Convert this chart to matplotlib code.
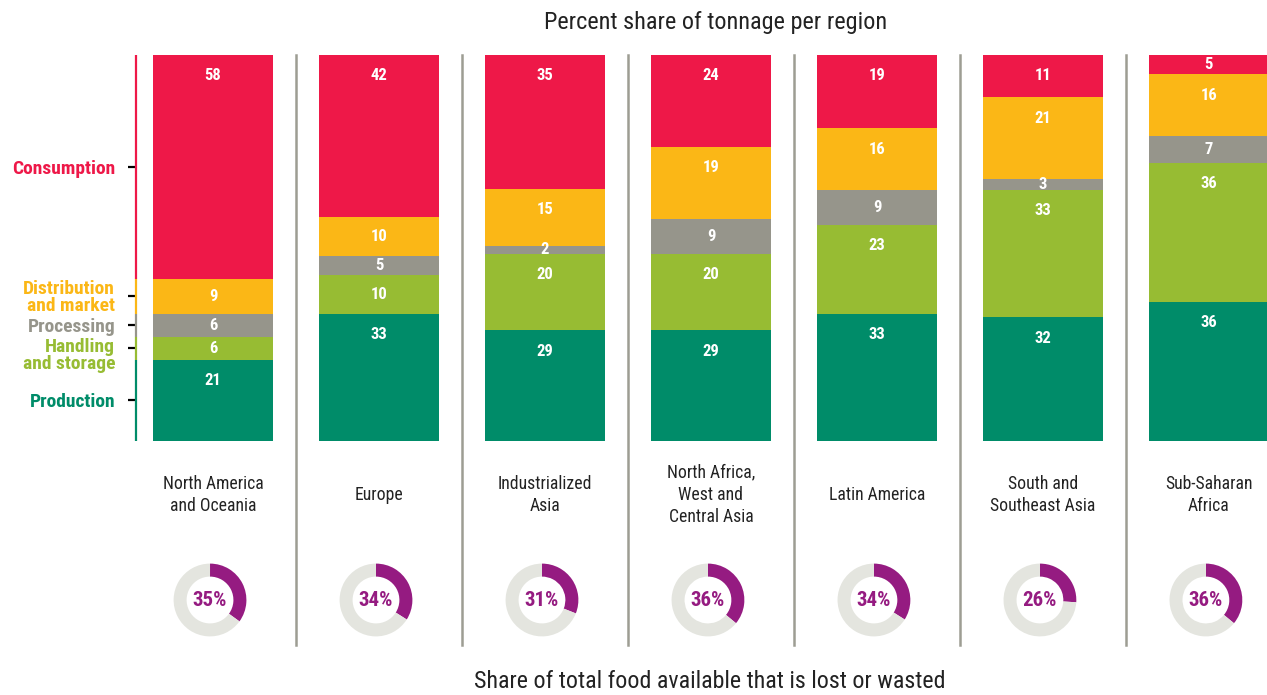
import matplotlib
matplotlib.use("Agg")
import matplotlib.pyplot as plt
from matplotlib import font_manager as fm
from matplotlib.transforms import ScaledTranslation

# data
regions = ["North America\nand Oceania", "Europe", "Industrialized\nAsia",
           "North Africa,\nWest and\nCentral Asia", "Latin America",
           "South and\nSoutheast Asia", "Sub-Saharan\nAfrica"]
stages = ["Production", "Handling\nand storage", "Processing",
          "Distribution\nand market", "Consumption"]
production = [21, 33, 29, 29, 33, 32, 36]
handling = [6, 10, 20, 20, 23, 33, 36]
processing = [6, 5, 2, 9, 9, 3, 7]
distribution = [9, 10, 15, 19, 16, 21, 16]
consumption = [58, 42, 35, 24, 19, 11, 5]
lost_share = [35, 34, 31, 36, 34, 26, 36]

series = [production, handling, processing, distribution, consumption]
colors = ["#008c69", "#97bc33", "#96958b", "#fbb716", "#ee1848"]
purple = "#951b81"
ring_grey = "#e4e5df"
sep_grey = "#9d9d93"

# pick a condensed face if one is installed
fam, stretch = "DejaVu Sans", "condensed"
names = {f.name for f in fm.fontManager.ttflist}
for cand in ["Roboto Condensed", "Liberation Sans Narrow", "Open Sans Condensed"]:
    if cand in names:
        fam, stretch = cand, "normal"
        break
plt.rcParams["font.family"] = [fam, "DejaVu Sans"]
plt.rcParams["font.stretch"] = stretch

W, H = 1267, 695
fig = plt.figure(figsize=(W / 100, H / 100), dpi=100)
ax = fig.add_axes([136 / W, (H - 441) / H, (W - 136) / W, 386 / H])

x = list(range(len(regions)))
xmin, xmax = -0.464, 6.35
ax.set_xlim(xmin, xmax)
ax.set_ylim(0, 100)

# the graphic scales each column to a full 100 (some round to 101)
totals = [sum(col) for col in zip(*series)]

bottom = [0.0] * len(regions)
for vals, col in zip(series, colors):
    h = [v / t * 100 for v, t in zip(vals, totals)]
    ax.bar(x, h, width=0.723, bottom=bottom, color=col, linewidth=0)
    for i, v in enumerate(vals):
        top = bottom[i] + h[i]
        ylab = top - min(5.4, h[i] / 2)
        ax.text(i, ylab, str(v), ha="center", va="center", color="white",
                fontsize=12, fontweight="bold")
    bottom = [b + hh for b, hh in zip(bottom, h)]

for s in ax.spines.values():
    s.set_visible(False)
ax.set_xticks([])

# coloured left axis, split by the first region's segments
edges = [0]
for vals in series:
    edges.append(edges[-1] + vals[0])
mids = [(a + b) / 2 for a, b in zip(edges[:-1], edges[1:])]
for a, b, col in zip(edges[:-1], edges[1:], colors):
    ax.plot([xmin, xmin], [a, b], color=col, lw=1.6, clip_on=False,
            solid_capstyle="butt")
ax.set_yticks(mids)
ax.set_yticklabels(stages, fontsize=14, fontweight="bold", linespacing=0.92)
ax.tick_params(axis="y", length=6, width=1.6, pad=9)
for tick, lab, col in zip(ax.yaxis.get_major_ticks(), ax.get_yticklabels(), colors):
    tick.tick1line.set_color(col)
    lab.set_color(col)
# the handling label sits a little below its tick
hl = ax.get_yticklabels()[1]
hl.set_transform(hl.get_transform() + ScaledTranslation(0, -6 / 100, fig.dpi_scale_trans))

# separators between regions
for i in range(len(regions) - 1):
    ax.axvline(i + 0.5, ymin=-0.528, ymax=1.0, color=sep_grey, lw=1.8,
               clip_on=False)

# region names
for i, r in enumerate(regions):
    ax.text(i, -14.0, r, ha="center", va="center", fontsize=12.7,
            linespacing=1.3, color="#222222")

# donuts
fig.canvas.draw()
for i, p in enumerate(lost_share):
    cx, _ = ax.transData.transform((i, 0))
    cx -= 3
    cy = H - 600
    dax = fig.add_axes([(cx - 40) / W, (cy - 40) / H, 80 / W, 80 / H])
    dax.pie([p, 100 - p], colors=[purple, ring_grey], startangle=90,
            counterclock=False, radius=0.91,
            wedgeprops=dict(width=0.325, linewidth=0))
    dax.set_xlim(-1, 1)
    dax.set_ylim(-1, 1)
    dax.set_aspect("equal")
    dax.text(0, 0, f"{p}%", ha="center", va="center", color=purple,
             fontsize=15, fontweight="bold")

fig.text(716 / W, 1 - 22 / H, "Percent share of tonnage per region",
         ha="center", va="center", fontsize=17.5, color="#222222")
fig.text(710 / W, 1 - 681 / H, "Share of total food available that is lost or wasted",
         ha="center", va="center", fontsize=17.3, color="#222222")

fig.savefig("out.png", dpi=100)
